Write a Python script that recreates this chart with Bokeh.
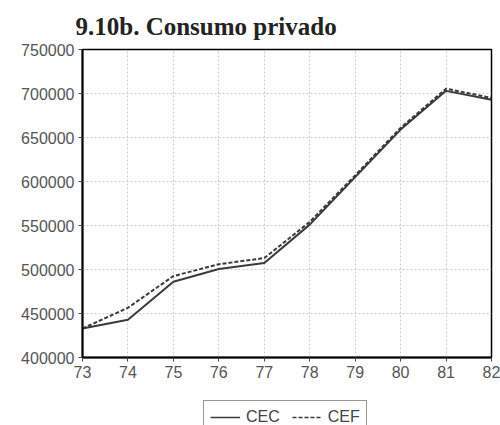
from bokeh.plotting import figure
from bokeh.layouts import column
from bokeh.models import (Range1d, FixedTicker, BasicTickFormatter, Legend, LegendItem)
from bokeh.embed import file_html
from bokeh.resources import INLINE

years = [73, 74, 75, 76, 77, 78, 79, 80, 81, 82]
cec = [433000, 443000, 486000, 500500, 507500, 551000, 605000, 659000, 703000, 693000]
cef = [433000, 456500, 492500, 506000, 513000, 554000, 607000, 661000, 705500, 695000]
y_ticks = [400000, 450000, 500000, 550000, 600000, 650000, 700000, 750000]

p = figure(width=500, height=387, output_backend="svg", toolbar_location=None,
           x_range=Range1d(73, 82), y_range=Range1d(400000, 750000),
           min_border_left=82, min_border_right=9, min_border_top=49, min_border_bottom=30,
           title="9.10b. Consumo privado")
p.background_fill_color = "white"
p.border_fill_color = "white"
p.outline_line_color = "black"
p.outline_line_width = 1.5

p.title.text_font = "Liberation Serif"
p.title.text_font_size = "25px"
p.title.text_font_style = "bold"
p.title.text_color = "#222222"
p.title.align = "left"
p.title.offset = -7
p.title.standoff = 19

for ax in (p.xaxis[0], p.yaxis[0]):
    ax.axis_line_color = "black"
    ax.axis_line_width = 2
    ax.major_tick_line_color = "#444444"
    ax.major_tick_out = 4
    ax.major_tick_in = 0
    ax.minor_tick_line_color = None
    ax.major_label_text_font = "Liberation Sans"
    ax.major_label_text_font_size = "16px"
    ax.major_label_text_color = "#555555"
p.xaxis.ticker = FixedTicker(ticks=years)
p.yaxis.ticker = FixedTicker(ticks=y_ticks)
p.yaxis.formatter = BasicTickFormatter(use_scientific=False)
p.yaxis.major_label_standoff = 4
p.xaxis.major_label_standoff = 4

p.grid.grid_line_color = "#cccccc"
p.grid.grid_line_dash = "2 2"
p.grid.grid_line_width = 1

p.line(years, cec, line_color="#3a3a3a", line_width=2)
p.line(years, cef, line_color="#3a3a3a", line_width=2, line_dash="4 2")

# legend strip below the chart
p2 = figure(width=500, height=50, output_backend="svg", toolbar_location=None,
            x_range=Range1d(0, 1), y_range=Range1d(0, 1),
            x_axis_location=None, y_axis_location=None,
            min_border_left=0, min_border_right=0, min_border_top=0, min_border_bottom=0)
p2.grid.visible = False
p2.outline_line_color = None
p2.border_fill_color = "white"
l1 = p2.line(years, cec, line_color="#3a3a3a", line_width=1.5)
l2 = p2.line(years, cef, line_color="#3a3a3a", line_width=1.5, line_dash="4 2")

legend = Legend(items=[LegendItem(label="CEC", renderers=[l1]),
                       LegendItem(label="CEF", renderers=[l2])],
                orientation="horizontal", location=(121, 3),
                label_text_font="Liberation Sans", label_text_font_size="16px",
                label_text_color="#444444", border_line_color="#333333",
                border_line_width=1.5, glyph_width=30, spacing=12,
                padding=6, margin=0, label_standoff=6)
p2.add_layout(legend)

layout = column(p, p2, spacing=0)
open("out.html", "w").write(file_html(layout, INLINE))
